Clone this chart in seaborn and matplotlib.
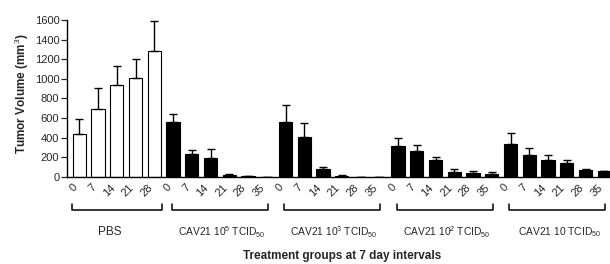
import numpy as np
import pandas as pd
import matplotlib
matplotlib.use("Agg")
import matplotlib.pyplot as plt
import matplotlib.transforms as mtransforms
import seaborn as sns

# ---- data ----
groups = ["PBS", "CAV21 10$^{5}$ TCID$_{50}$", "CAV21 10$^{3}$ TCID$_{50}$",
          "CAV21 10$^{2}$ TCID$_{50}$", "CAV21 10 TCID$_{50}$"]
pbs_days = [0, 7, 14, 21, 28]
cav_days = [0, 7, 14, 21, 28, 35]
pbs_vals = [436, 688, 936, 1008, 1283]
pbs_err = [150, 221, 191, 194, 310]
cav5_vals = [558, 232, 186, 15, 3, 0]
cav5_err = [85, 38, 94, 16, 2, 0]
cav3_vals = [555, 408, 75, 10, 0, 0]
cav3_err = [180, 137, 21, 5, 0, 0]
cav2_vals = [317, 262, 167, 51, 38, 24]
cav2_err = [75, 65, 31, 24, 20, 21]
cav10_vals = [331, 225, 167, 137, 68, 55]
cav10_err = [112, 68, 58, 33, 7, 3]
yticks = [0, 200, 400, 600, 800, 1000, 1200, 1400, 1600]

# build table
rows = []
series = [(groups[0], pbs_days, pbs_vals, pbs_err),
          (groups[1], cav_days, cav5_vals, cav5_err),
          (groups[2], cav_days, cav3_vals, cav3_err),
          (groups[3], cav_days, cav2_vals, cav2_err),
          (groups[4], cav_days, cav10_vals, cav10_err)]
for g, days, vals, errs in series:
    for d, v, e in zip(days, vals, errs):
        rows.append({"group": g, "day": d, "key": f"{g}|{d}", "value": v, "err": e})
df = pd.DataFrame(rows)

sns.set_style("white")
plt.rcParams["font.family"] = ["Liberation Sans", "DejaVu Sans"]
plt.rcParams["mathtext.fontset"] = "custom"
plt.rcParams["mathtext.rm"] = "Liberation Sans"
plt.rcParams["mathtext.it"] = "Liberation Sans"
plt.rcParams["mathtext.bf"] = "Liberation Sans:bold"

fig = plt.figure(figsize=(6.10, 2.64), dpi=100)
ax = fig.add_axes([67 / 610, (264 - 176.7) / 264, 543 / 610, (176.7 - 20) / 264])

palette = {groups[0]: "white"}
for g in groups[1:]:
    palette[g] = "black"

sns.barplot(data=df, x="key", y="value", hue="group", palette=palette,
            order=list(df["key"]), dodge=False, width=0.71,
            edgecolor="black", linewidth=0.8, errorbar=None, legend=False, ax=ax)

xpos = np.arange(len(df))
ax.errorbar(xpos, df["value"], yerr=[np.zeros(len(df)), df["err"]],
            fmt="none", ecolor="black", elinewidth=1.0, capsize=3.2, capthick=1.0)

ax.set_xlim(-0.656, -0.656 + 543 / 18.75)
ax.set_ylim(0, 1600)
ax.set_yticks(yticks)
ax.set_yticklabels([str(t) for t in yticks], fontsize=8)
ax.set_xticks(xpos)
ax.set_xticklabels([str(d) for d in df["day"]], rotation=45, ha="right", fontsize=8)
ax.tick_params(axis="x", length=0, pad=4)
ax.tick_params(axis="y", direction="out", length=4, width=0.9, pad=1.5, left=True)
for s in ["top", "right"]:
    ax.spines[s].set_visible(False)
for s in ["left", "bottom"]:
    ax.spines[s].set_linewidth(1.0)
    ax.spines[s].set_color("black")
ax.set_xlabel("")
ax.set_ylabel("Tumor Volume (mm$^{3}$)", fontsize=8.5, fontweight="bold")
ax.yaxis.set_label_coords((31 - 67) / 543, 0.53)

# brackets and group labels
trans = mtransforms.blended_transform_factory(ax.transData, fig.transFigure)
y_line = (264 - 210) / 264
y_top = (264 - 203.5) / 264
y_text = (264 - 232) / 264
start = 0
for i, (g, days, vals, errs) in enumerate(series):
    n = len(days)
    c = start + (n - 1) / 2
    half = 2.4 if n == 5 else 2.56
    x0, x1 = c - half, c + half
    ax.plot([x0, x0, x1, x1], [y_top, y_line, y_line, y_top], color="black",
            lw=1.1, transform=trans, clip_on=False)
    ax.text(c + (-0.4 if i == 0 else 0.1), y_text, g, transform=trans, ha="center",
            va="center", fontsize=8.5 if i == 0 else 7.4)
    start += n

fig.text(342 / 610, (264 - 256) / 264, "Treatment groups at 7 day intervals",
         ha="center", va="center", fontsize=8.5, fontweight="bold")

fig.savefig("out.png", dpi=100)
